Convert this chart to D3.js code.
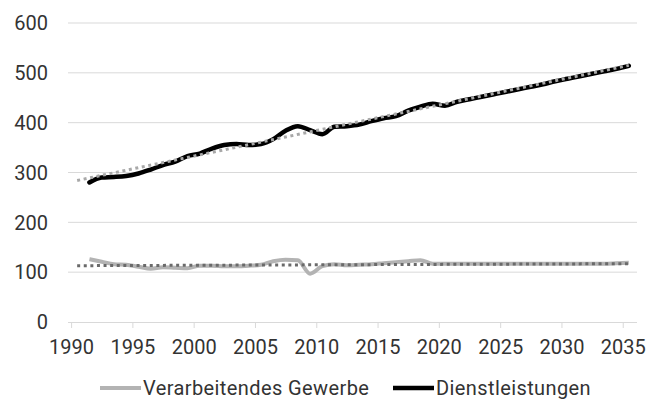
<!DOCTYPE html>
<html>
<head>
<meta charset="utf-8">
<script src="https://cdn.jsdelivr.net/npm/d3@7"></script>
<style>
  body { margin: 0; background: #fff; }
  text { font-family: Roboto, "Noto Sans", sans-serif; fill: #333; }
</style>
</head>
<body>
<div id="chart"></div>
<script>
// years of the two series (values plotted at mid-year)
var years = d3.range(1991, 2036);

var dienstleistungen = [280, 290, 291, 293, 298, 306, 315, 322, 333, 338,
    348, 355, 357, 355, 357, 367, 384, 393, 385, 377,
    392, 393, 396, 403, 409, 413, 424, 432, 438, 434,
    442, 447, 452, 457, 462, 467, 472, 477, 483, 488,
    493, 498, 503, 508, 514];

var verarbeitendes = [126, 121, 116, 115, 111, 107, 110, 109, 108, 113,
    113, 112, 112, 113, 115, 122, 125, 124, 97, 112,
    116, 114, 115, 116, 118, 120, 122, 124, 117, 117,
    117, 117, 117, 117, 117, 117, 117, 117, 117, 117,
    117, 117, 117, 118, 119];

// linear trend lines (start year / end year values)
var trendYears = [1990, 2035];
var trendDienst = [284, 515];
var trendVerarb = [113, 117];

var yTicks = [0, 100, 200, 300, 400, 500, 600];
var xTicks = [1990, 1995, 2000, 2005, 2010, 2015, 2020, 2025, 2030, 2035];

var seriesNames = ["Verarbeitendes Gewerbe", "Dienstleistungen"];

var width = 666, height = 401;

function mid(y) { return new Date(y, 6, 1); }

var x = d3.scaleTime()
    .domain([new Date(1989, 9, 1), new Date(2036, 2, 1)])
    .range([68, 637]);

var y = d3.scaleLinear().domain([0, 600]).range([322, 23]);

var svg = d3.select("#chart").append("svg")
    .attr("width", width)
    .attr("height", height);

// gridlines
svg.append("g")
    .selectAll("line")
    .data(yTicks.slice(1))
    .enter().append("line")
    .attr("x1", x.range()[0])
    .attr("x2", x.range()[1])
    .attr("y1", function(d) { return y(d); })
    .attr("y2", function(d) { return y(d); })
    .style("stroke", "#d9d9d9")
    .style("stroke-width", 1);

// y labels
svg.append("g")
    .selectAll("text")
    .data(yTicks)
    .enter().append("text")
    .attr("x", 48)
    .attr("y", function(d) { return y(d); })
    .attr("dy", "0.36em")
    .style("text-anchor", "end")
    .style("font-size", "20px")
    .text(function(d) { return d; });

// x axis
var xAxis = d3.axisBottom(x)
    .tickValues(xTicks.map(function(d) { return new Date(d, 0, 1); }))
    .tickFormat(d3.timeFormat("%Y"))
    .tickSize(6)
    .tickPadding(12);

var gx = svg.append("g")
    .attr("transform", "translate(0," + y(0) + ")")
    .call(xAxis);
gx.select(".domain").attr("d", "M" + x.range()[0] + ",0.5H" + x.range()[1])
    .style("stroke", "#d9d9d9");
gx.selectAll(".tick line").style("stroke", "#d9d9d9");
gx.selectAll(".tick text")
    .style("font-size", "20px")
    .style("font-family", "Roboto, sans-serif")
    .attr("fill", "#333");

var line = d3.line()
    .curve(d3.curveMonotoneX)
    .x(function(d) { return x(mid(d[0])); })
    .y(function(d) { return y(d[1]); });

var verarbData = years.map(function(yr, i) { return [yr, verarbeitendes[i]]; });
var dienstData = years.map(function(yr, i) { return [yr, dienstleistungen[i]]; });

svg.append("path")
    .attr("d", line(verarbData))
    .style("fill", "none")
    .style("stroke", "#b3b3b3")
    .style("stroke-width", 4)
    .style("stroke-linejoin", "round");

svg.append("path")
    .attr("d", line(dienstData))
    .style("fill", "none")
    .style("stroke", "#000")
    .style("stroke-width", 4.5)
    .style("stroke-linejoin", "round")
    .style("stroke-linecap", "round");

// trend lines on top
var trendLine = d3.line()
    .x(function(d) { return x(mid(d[0])); })
    .y(function(d) { return y(d[1]); });

svg.append("path")
    .attr("d", trendLine(trendYears.map(function(yr, i) { return [yr, trendVerarb[i]]; })))
    .style("fill", "none")
    .style("stroke", "#6a6a6a")
    .style("stroke-width", 3)
    .style("stroke-dasharray", "3,3.6");

svg.append("path")
    .attr("d", trendLine(trendYears.map(function(yr, i) { return [yr, trendDienst[i]]; })))
    .style("fill", "none")
    .style("stroke", "#a8a8a8")
    .style("stroke-width", 3)
    .style("stroke-dasharray", "3,3.6");

// legend
var legendColors = ["#b3b3b3", "#000"];
var legendX = [100, 393];

var legend = svg.append("g")
    .selectAll("g")
    .data(seriesNames)
    .enter().append("g")
    .attr("transform", function(d, i) { return "translate(" + legendX[i] + ",388)"; });

legend.append("line")
    .attr("x1", 0)
    .attr("x2", 41)
    .style("stroke", function(d, i) { return legendColors[i]; })
    .style("stroke-width", function(d, i) { return i ? 4.5 : 4; });

legend.append("text")
    .attr("x", 43)
    .attr("y", 7)
    .style("font-size", "20px")
    .style("letter-spacing", "0.4px")
    .text(function(d) { return d; });
</script>
</body>
</html>
